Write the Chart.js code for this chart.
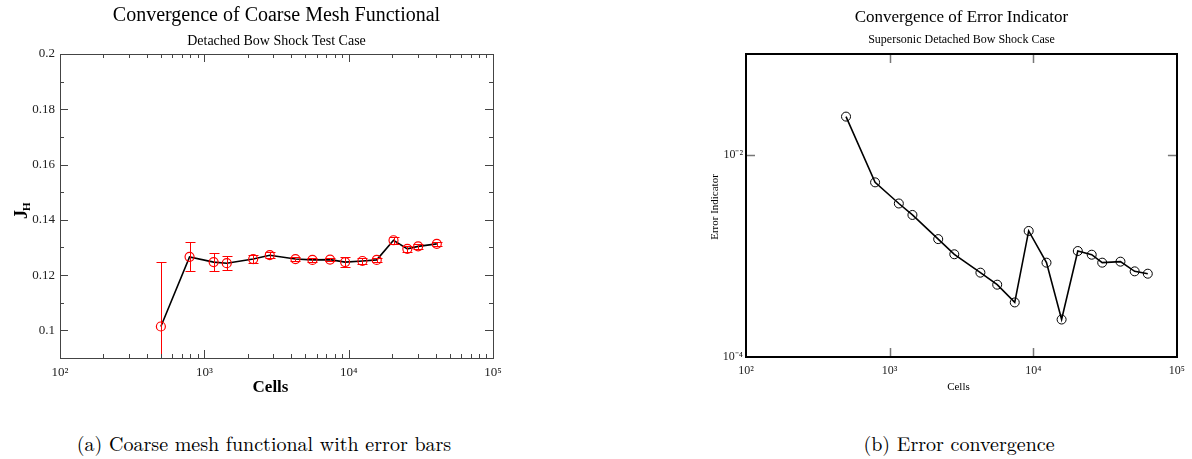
<!DOCTYPE html>
<html><head><meta charset="utf-8">
<script src="https://cdn.jsdelivr.net/npm/chart.js@4"></script>
<style>
html,body{margin:0;padding:0;background:#fff;width:1192px;height:459px;overflow:hidden;}
.wrap{position:absolute;top:0;width:596px;height:400px;}
.cap{position:absolute;top:432px;font-family:"Latin Modern Roman","CMU Serif","Liberation Serif",serif;font-size:20px;line-height:22px;color:#000;white-space:nowrap;transform:translateX(-50%);}
</style></head><body>
<div class="wrap" style="left:0"><canvas id="c1" width="596" height="400"></canvas></div>
<div class="wrap" style="left:596px"><canvas id="c2" width="596" height="400"></canvas></div>
<div class="cap" style="left:264px">(a) Coarse mesh functional with error bars</div>
<div class="cap" style="left:959px">(b) Error convergence</div>
<script>
// ---- data ----
const cellsA = [500, 790, 1160, 1430, 2180, 2840, 4280, 5610, 7430, 9450, 12450, 15650, 20450, 25500, 30300, 40800];
const functionalJH = [0.1014, 0.1266, 0.1247, 0.1243, 0.1258, 0.1272, 0.1258, 0.1255, 0.1256, 0.1247, 0.1251, 0.1255, 0.1326, 0.1295, 0.1304, 0.1313];
const functionalErr = [0.0235, 0.0053, 0.0033, 0.0025, 0.0015, 0.0010, 0.0008, 0.0006, 0.0006, 0.0017, 0.0010, 0.0008, 0.0012, 0.0010, 0.0010, 0.0008];
const cellsB = [497, 792, 1159, 1441, 2178, 2820, 4285, 5610, 7430, 9290, 12360, 15750, 20420, 25520, 30200, 40460, 50800, 62700];
const errorIndicator = [0.0240, 0.00536, 0.00331, 0.00255, 0.00147, 0.00104, 0.000684, 0.000520, 0.000347, 0.00177, 0.000859, 0.000235, 0.00112, 0.00103, 0.000859, 0.000879, 0.000705, 0.000668];
const xTickValues = [100, 1000, 10000, 100000];
const xTickLabels = ['10²', '10³', '10⁴', '10⁵'];
const yTickValuesA = [0.1, 0.12, 0.14, 0.16, 0.18, 0.2];
const yTickLabelsA = ['0.1', '0.12', '0.14', '0.16', '0.18', '0.2'];
const yMinorA = [0.11, 0.13, 0.15, 0.17, 0.19];
const yTickValuesB = [0.0001, 0.01];
const yTickLabelsB = ['10⁻⁴', '10⁻²'];

const SERIF = '"Liberation Serif", "Times New Roman", serif';

function xMinorTicks(){
  const out=[];
  for(let d=100; d<100000; d*=10){ for(let k=2;k<=9;k++) out.push(k*d); }
  return out;
}

// ---- left chart ----
const leftPlugin = {
  id:'leftDeco',
  afterDatasetsDraw(chart){
    const ctx=chart.ctx, a=chart.chartArea, xs=chart.scales.x, ys=chart.scales.y;
    ctx.save();
    ctx.beginPath(); ctx.rect(a.left,a.top,a.right-a.left,a.bottom-a.top); ctx.clip();
    ctx.strokeStyle='#ff0000'; ctx.lineWidth=1;
    cellsA.forEach((c,i)=>{
      const x=Math.round(xs.getPixelForValue(c))+0.5;
      const y1=Math.round(ys.getPixelForValue(functionalJH[i]+functionalErr[i]))+0.5;
      const y2=Math.round(ys.getPixelForValue(functionalJH[i]-functionalErr[i]))+0.5;
      ctx.beginPath(); ctx.moveTo(x,y1); ctx.lineTo(x,y2);
      ctx.moveTo(x-5,y1); ctx.lineTo(x+5,y1);
      ctx.moveTo(x-5,y2); ctx.lineTo(x+5,y2);
      ctx.stroke();
    });
    ctx.restore();
  },
  afterDraw(chart){
    const ctx=chart.ctx, a=chart.chartArea, xs=chart.scales.x, ys=chart.scales.y;
    ctx.save();
    ctx.strokeStyle='#444'; ctx.lineWidth=1;
    ctx.strokeRect(Math.round(a.left)+0.5,Math.round(a.top)+0.5,Math.round(a.right-a.left),Math.round(a.bottom-a.top));
    ctx.beginPath();
    xTickValues.forEach(v=>{const x=Math.round(xs.getPixelForValue(v))+0.5;
      ctx.moveTo(x,a.bottom); ctx.lineTo(x,a.bottom-8); ctx.moveTo(x,a.top); ctx.lineTo(x,a.top+8);});
    xMinorTicks().forEach(v=>{const x=Math.round(xs.getPixelForValue(v))+0.5;
      ctx.moveTo(x,a.bottom); ctx.lineTo(x,a.bottom-4); ctx.moveTo(x,a.top); ctx.lineTo(x,a.top+4);});
    yTickValuesA.forEach(v=>{const y=Math.round(ys.getPixelForValue(v))+0.5;
      ctx.moveTo(a.left,y); ctx.lineTo(a.left+8,y); ctx.moveTo(a.right,y); ctx.lineTo(a.right-8,y);});
    yMinorA.forEach(v=>{const y=Math.round(ys.getPixelForValue(v))+0.5;
      ctx.moveTo(a.left,y); ctx.lineTo(a.left+4,y); ctx.moveTo(a.right,y); ctx.lineTo(a.right-4,y);});
    ctx.stroke();
    const cx=(a.left+a.right)/2;
    ctx.fillStyle='#000'; ctx.textAlign='center'; ctx.textBaseline='middle';
    ctx.font='20px '+SERIF; ctx.fillText('Convergence of Coarse Mesh Functional',cx,16);
    ctx.font='14px '+SERIF; ctx.fillText('Detached Bow Shock Test Case',cx,41);
    ctx.font='bold 17px '+SERIF; ctx.fillText('Cells',cx-6,388);
    ctx.translate(22,210); ctx.rotate(-Math.PI/2);
    ctx.font='bold 18px '+SERIF; ctx.textAlign='left';
    ctx.fillText('J',-9,0);
    ctx.font='bold 11px '+SERIF; ctx.fillText('H',-1,5);
    ctx.restore();
  }
};

new Chart(document.getElementById('c1'),{
  type:'line',
  data:{datasets:[{
    data:cellsA.map((c,i)=>({x:c,y:functionalJH[i]})),
    borderColor:'#000', borderWidth:1.6, tension:0,
    pointRadius:4.5, pointBorderColor:'#ff0000', pointBackgroundColor:'rgba(0,0,0,0)', pointBorderWidth:1.2
  }]},
  options:{
    responsive:false, animation:false, clip:false,
    layout:{padding:{top:54,right:103,left:0,bottom:0}},
    plugins:{legend:{display:false},tooltip:{enabled:false}},
    scales:{
      x:{type:'logarithmic',min:100,max:100000,
        grid:{display:false,drawTicks:false},border:{display:false},
        afterBuildTicks(s){s.ticks=xTickValues.map(v=>({value:v}));},
        afterFit(s){s.height=42;},
        ticks:{autoSkip:false,maxRotation:0,padding:7,color:'#222',font:{family:SERIF,size:13},
          callback:(v,i)=>xTickLabels[i]}},
      y:{type:'linear',min:0.09,max:0.2,
        grid:{display:false,drawTicks:false},border:{display:false},
        afterBuildTicks(s){s.ticks=yTickValuesA.map(v=>({value:v}));},
        afterFit(s){s.width=60;},
        ticks:{autoSkip:false,padding:5,color:'#222',font:{family:SERIF,size:13},
          callback:(v,i)=>yTickLabelsA[i]}}
    }
  },
  plugins:[leftPlugin]
});

// ---- right chart ----
const rightPlugin = {
  id:'rightDeco',
  afterDraw(chart){
    const ctx=chart.ctx, a=chart.chartArea, xs=chart.scales.x, ys=chart.scales.y;
    ctx.save();
    ctx.strokeStyle='#777'; ctx.lineWidth=1.5;
    ctx.beginPath();
    xTickValues.slice(1,3).forEach(v=>{const x=Math.round(xs.getPixelForValue(v))+0.5;
      ctx.moveTo(x,a.bottom); ctx.lineTo(x,a.bottom-9); ctx.moveTo(x,a.top); ctx.lineTo(x,a.top+9);});
    [0.01].forEach(v=>{const y=Math.round(ys.getPixelForValue(v))+0.5;
      ctx.moveTo(a.left,y); ctx.lineTo(a.left+9,y); ctx.moveTo(a.right,y); ctx.lineTo(a.right-9,y);});
    ctx.stroke();
    ctx.strokeStyle='#000'; ctx.lineWidth=2;
    ctx.strokeRect(Math.round(a.left),Math.round(a.top),Math.round(a.right-a.left),Math.round(a.bottom-a.top));
    const cx=(a.left+a.right)/2;
    ctx.fillStyle='#000'; ctx.textAlign='center'; ctx.textBaseline='middle';
    ctx.font='17px '+SERIF; ctx.fillText('Convergence of Error Indicator',cx,18);
    ctx.font='12px '+SERIF; ctx.fillText('Supersonic Detached Bow Shock Case',cx,40);
    ctx.font='11px '+SERIF; ctx.fillText('Cells',cx-3,387);
    ctx.translate(119,207); ctx.rotate(-Math.PI/2);
    ctx.font='11px '+SERIF; ctx.fillText('Error Indicator',0,0);
    ctx.restore();
  }
};

new Chart(document.getElementById('c2'),{
  type:'line',
  data:{datasets:[{
    data:cellsB.map((c,i)=>({x:c,y:errorIndicator[i]})),
    borderColor:'#000', borderWidth:1.6, tension:0,
    pointRadius:4.5, pointBorderColor:'#000', pointBackgroundColor:'rgba(0,0,0,0)', pointBorderWidth:1
  }]},
  options:{
    responsive:false, animation:false, clip:false,
    layout:{padding:{top:54,right:11,left:0,bottom:0}},
    plugins:{legend:{display:false},tooltip:{enabled:false}},
    scales:{
      x:{type:'logarithmic',min:100,max:100000,
        grid:{display:false,drawTicks:false},border:{display:false},
        afterBuildTicks(s){s.ticks=xTickValues.map(v=>({value:v}));},
        afterFit(s){s.height=43;},
        ticks:{autoSkip:false,maxRotation:0,padding:7,color:'#222',font:{family:SERIF,size:12},
          callback:(v,i)=>xTickLabels[i]}},
      y:{type:'logarithmic',min:0.0001,max:0.1,
        grid:{display:false,drawTicks:false},border:{display:false},
        afterBuildTicks(s){s.ticks=yTickValuesB.map(v=>({value:v}));},
        afterFit(s){s.width=150;},
        ticks:{autoSkip:false,padding:3,color:'#222',font:{family:SERIF,size:12},
          callback:(v,i)=>yTickLabelsB[i]}}
    }
  },
  plugins:[rightPlugin]
});
</script>
</body></html>
